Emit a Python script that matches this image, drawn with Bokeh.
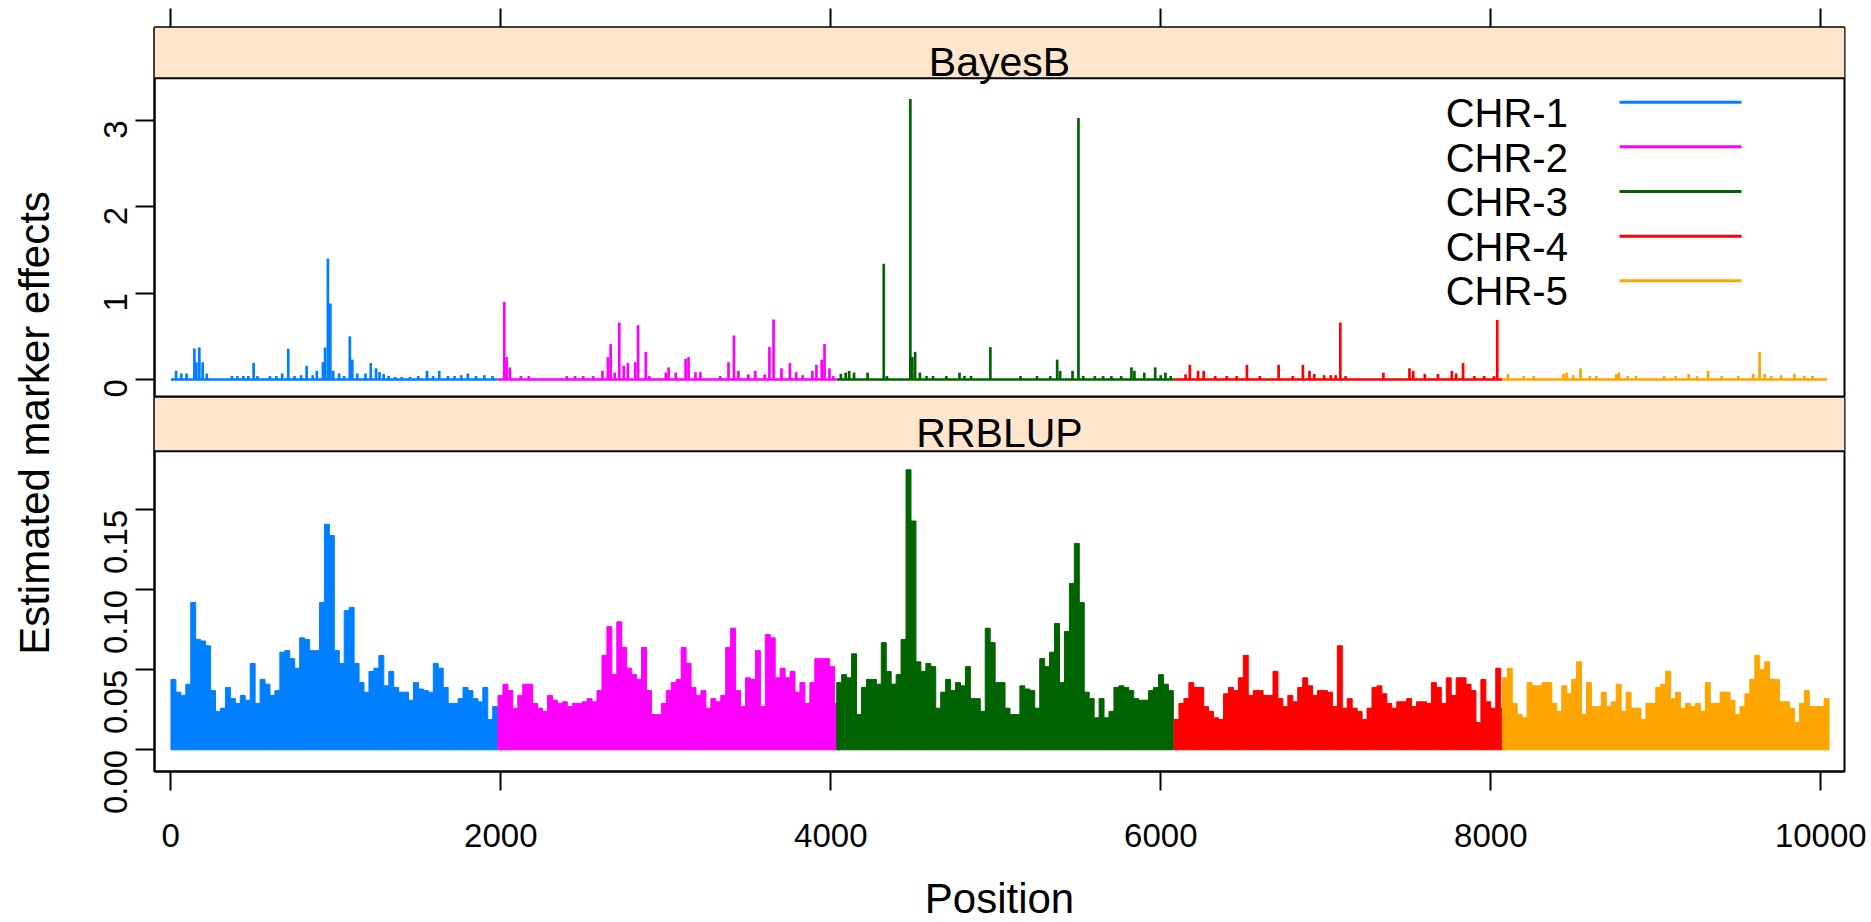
import math
from bokeh.plotting import figure
from bokeh.models import Range1d, FixedTicker, PrintfTickFormatter, BoxAnnotation, Span, Label, ColumnDataSource
from bokeh.layouts import row, column
from bokeh.core.properties import value
from bokeh.embed import file_html
from bokeh.resources import INLINE

# ---------------- data ----------------
CHR_NAMES = ["CHR-1", "CHR-2", "CHR-3", "CHR-4", "CHR-5"]
CHR_COLORS = ["#0080ff", "#ff00ff", "#006400", "#ff0000", "#ffa500"]
CHR_START = [1, 1983, 4036, 6080, 8070]
CHR_END = [1982, 4035, 6079, 8069, 10039]
X_TICKS = [0, 2000, 4000, 6000, 8000, 10000]
BAYES_TICKS = [0, 1, 2, 3]
RR_TICKS = [0.0, 0.05, 0.10, 0.15]

# BayesB: marker positions with visible effects (all others ~0)
bayes_pos_1 = [32, 64, 96, 143, 155, 173, 193, 218, 371, 403, 440, 470, 502, 525, 601, 640, 675, 712, 750, 790,
               823, 860, 885, 922, 935, 952, 967, 984, 1020, 1050, 1085, 1100, 1130, 1180, 1212, 1244, 1265,
               1290, 1320, 1360, 1400, 1450, 1500, 1553, 1590, 1627, 1680, 1720, 1760, 1800, 1850, 1900, 1950]
bayes_val_1 = [0.10, 0.07, 0.07, 0.36, 0.20, 0.37, 0.20, 0.07, 0.04, 0.04, 0.04, 0.04, 0.19, 0.04, 0.04, 0.04,
               0.07, 0.355, 0.04, 0.05, 0.16, 0.05, 0.10, 0.20, 0.37, 1.40, 0.88, 0.10, 0.07, 0.04, 0.50, 0.23,
               0.07, 0.07, 0.19, 0.13, 0.085, 0.065, 0.04, 0.03, 0.03, 0.03, 0.04, 0.10, 0.04, 0.10, 0.04, 0.04,
               0.05, 0.07, 0.04, 0.05, 0.04]
bayes_pos_2 = [2021, 2035, 2055, 2122, 2170, 2400, 2450, 2500, 2560, 2616, 2649, 2666, 2690, 2718, 2745, 2770,
               2815, 2832, 2879, 2900, 3000, 3017, 3060, 3120, 3138, 3180, 3210, 3330, 3380, 3413, 3440, 3500,
               3542, 3600, 3628, 3653, 3701, 3752, 3790, 3830, 3888, 3913, 3945, 3962, 3992, 4015]
bayes_val_2 = [0.90, 0.26, 0.14, 0.04, 0.04, 0.04, 0.04, 0.04, 0.04, 0.10, 0.26, 0.41, 0.08, 0.66, 0.16, 0.19,
               0.20, 0.63, 0.32, 0.04, 0.08, 0.14, 0.08, 0.24, 0.26, 0.085, 0.085, 0.04, 0.20, 0.51, 0.10, 0.06,
               0.10, 0.06, 0.375, 0.695, 0.13, 0.19, 0.085, 0.05, 0.10, 0.17, 0.23, 0.41, 0.13, 0.04]
bayes_pos_3 = [4061, 4090, 4111, 4141, 4223, 4321, 4340, 4482, 4494, 4511, 4540, 4580, 4620, 4700, 4780, 4810,
               4850, 4967, 5150, 5250, 5330, 5372, 5390, 5465, 5501, 5530, 5600, 5650, 5700, 5760, 5822, 5840,
               5900, 5966, 6000, 6028, 6060]
bayes_val_3 = [0.065, 0.08, 0.10, 0.08, 0.08, 1.34, 0.04, 3.25, 0.26, 0.32, 0.08, 0.04, 0.04, 0.04, 0.08, 0.04,
               0.04, 0.375, 0.04, 0.04, 0.04, 0.23, 0.10, 0.10, 3.03, 0.04, 0.04, 0.04, 0.04, 0.04, 0.14, 0.10,
               0.08, 0.14, 0.05, 0.08, 0.04]
bayes_pos_4 = [6150, 6176, 6226, 6260, 6330, 6400, 6460, 6522, 6600, 6714, 6800, 6861, 6901, 6930, 6990, 7030,
               7060, 7088, 7120, 7349, 7507, 7530, 7600, 7680, 7764, 7790, 7832, 7900, 7960, 8020, 8039]
bayes_val_4 = [0.06, 0.17, 0.10, 0.10, 0.04, 0.04, 0.04, 0.17, 0.04, 0.17, 0.04, 0.17, 0.10, 0.065, 0.05, 0.05,
               0.05, 0.66, 0.04, 0.08, 0.13, 0.10, 0.065, 0.065, 0.10, 0.07, 0.19, 0.04, 0.04, 0.04, 0.69]
bayes_pos_5 = [8105, 8200, 8260, 8440, 8459, 8500, 8544, 8600, 8640, 8760, 8776, 8830, 8880, 9050, 9120, 9200,
               9250, 9317, 9400, 9500, 9590, 9629, 9660, 9700, 9760, 9840, 9900, 9950]
bayes_val_5 = [0.065, 0.04, 0.04, 0.065, 0.08, 0.05, 0.13, 0.04, 0.04, 0.065, 0.08, 0.04, 0.04, 0.04, 0.04,
               0.065, 0.04, 0.10, 0.04, 0.04, 0.065, 0.32, 0.065, 0.04, 0.05, 0.065, 0.04, 0.04]

# RRBLUP: upper envelope of |effect| per block of 30 consecutive markers
RR_BLOCK = 30
rr_val_1 = [0.044, 0.036, 0.034, 0.041, 0.092, 0.069, 0.068, 0.065, 0.037, 0.024,
            0.026, 0.039, 0.032, 0.029, 0.034, 0.031, 0.054, 0.029, 0.044, 0.041,
            0.034, 0.037, 0.061, 0.062, 0.057, 0.051, 0.070, 0.069, 0.062, 0.062,
            0.092, 0.141, 0.134, 0.062, 0.054, 0.087, 0.089, 0.054, 0.042, 0.036,
            0.049, 0.051, 0.059, 0.040, 0.049, 0.039, 0.036, 0.036, 0.031, 0.042,
            0.038, 0.037, 0.036, 0.054, 0.051, 0.039, 0.029, 0.029, 0.032, 0.039,
            0.037, 0.032, 0.030, 0.039, 0.019, 0.027]
rr_val_2 = [0.034, 0.041, 0.037, 0.026, 0.034, 0.041, 0.041, 0.029, 0.026, 0.024,
            0.034, 0.031, 0.029, 0.030, 0.027, 0.029, 0.029, 0.030, 0.032, 0.030,
            0.037, 0.059, 0.077, 0.047, 0.080, 0.064, 0.051, 0.047, 0.044, 0.064,
            0.037, 0.022, 0.022, 0.029, 0.037, 0.042, 0.044, 0.064, 0.054, 0.039,
            0.034, 0.037, 0.026, 0.032, 0.030, 0.034, 0.064, 0.076, 0.037, 0.027,
            0.045, 0.044, 0.062, 0.027, 0.072, 0.070, 0.045, 0.051, 0.045, 0.049,
            0.036, 0.042, 0.029, 0.042, 0.057, 0.057, 0.057, 0.052, 0.029]
rr_val_3 = [0.042, 0.047, 0.045, 0.060, 0.022, 0.039, 0.044, 0.044, 0.041, 0.067,
            0.049, 0.041, 0.047, 0.069, 0.175, 0.143, 0.055, 0.049, 0.054, 0.052,
            0.026, 0.036, 0.044, 0.037, 0.042, 0.040, 0.052, 0.032, 0.032, 0.024,
            0.076, 0.067, 0.042, 0.042, 0.026, 0.022, 0.022, 0.040, 0.038, 0.037,
            0.026, 0.057, 0.052, 0.061, 0.079, 0.042, 0.074, 0.104, 0.129, 0.092,
            0.036, 0.032, 0.020, 0.032, 0.020, 0.024, 0.039, 0.040, 0.039, 0.037,
            0.032, 0.031, 0.031, 0.037, 0.039, 0.047, 0.041, 0.037]
rr_val_4 = [0.019, 0.029, 0.032, 0.042, 0.039, 0.039, 0.027, 0.024, 0.020, 0.019,
            0.035, 0.039, 0.037, 0.045, 0.059, 0.034, 0.037, 0.037, 0.034, 0.034,
            0.049, 0.032, 0.027, 0.034, 0.030, 0.039, 0.045, 0.040, 0.034, 0.037,
            0.037, 0.036, 0.027, 0.065, 0.026, 0.032, 0.026, 0.024, 0.019, 0.026,
            0.039, 0.040, 0.035, 0.029, 0.026, 0.030, 0.030, 0.032, 0.027, 0.030,
            0.030, 0.029, 0.042, 0.039, 0.029, 0.045, 0.034, 0.045, 0.045, 0.041,
            0.037, 0.017, 0.044, 0.030, 0.026, 0.051, 0.026]
rr_val_5 = [0.045, 0.051, 0.029, 0.022, 0.020, 0.042, 0.040, 0.040, 0.042, 0.042,
            0.029, 0.024, 0.040, 0.035, 0.044, 0.055, 0.022, 0.042, 0.027, 0.027,
            0.036, 0.027, 0.030, 0.041, 0.024, 0.036, 0.026, 0.026, 0.019, 0.029,
            0.029, 0.039, 0.041, 0.049, 0.032, 0.036, 0.026, 0.029, 0.027, 0.029,
            0.024, 0.042, 0.029, 0.029, 0.036, 0.036, 0.031, 0.022, 0.027, 0.035,
            0.044, 0.059, 0.050, 0.055, 0.044, 0.044, 0.030, 0.030, 0.026, 0.017,
            0.029, 0.037, 0.027, 0.027, 0.027, 0.032]

BAYES_POS = [bayes_pos_1, bayes_pos_2, bayes_pos_3, bayes_pos_4, bayes_pos_5]
BAYES_VAL = [bayes_val_1, bayes_val_2, bayes_val_3, bayes_val_4, bayes_val_5]
RR_VAL = [rr_val_1, rr_val_2, rr_val_3, rr_val_4, rr_val_5]

# ---------------- layout helpers (page pixels -> data) ----------------
FONT = "Liberation Sans"
X0_PX, X_SCALE = 170.3, 0.165
B0_PX, B_SCALE = 379.0, 86.33
R0_PX, R_SCALE = 749.3, 1600.0
DROP = 0.27            # rendered baseline sits this many em below the requested one


def xd(px):
    return (px - X0_PX) / X_SCALE


def yb(px):
    return (B0_PX - px) / B_SCALE


def yr(px):
    return (R0_PX - px) / R_SCALE


STRIP_FILL = "#ffe5cc"
LW = 2.7
TICK_FS = "33px"

YLAB_W = 72
PANEL_W = 1799          # 82 left border + 1690 frame + 27 right border
BOT_BORDER = 94
XLAB_H = 922 - 397 - (374 + BOT_BORDER)
x_range = Range1d(xd(154), xd(1844))


def style_axis(ax, ticks, fs=TICK_FS):
    ax.ticker = FixedTicker(ticks=ticks, minor_ticks=[])
    ax.axis_line_color = "black"
    ax.axis_line_width = 2
    ax.major_tick_line_color = "black"
    ax.major_tick_line_width = 2
    ax.major_tick_out = 19
    ax.major_tick_in = 0
    ax.minor_tick_line_color = None
    ax.major_label_text_font = FONT
    ax.major_label_text_font_size = fs
    ax.major_label_text_color = "black"


def base_fig(**kw):
    p = figure(output_backend="svg", toolbar_location=None, tools="", x_range=x_range, width=PANEL_W,
               background_fill_color="white", border_fill_color="white",
               min_border_left=82, min_border_right=27, **kw)
    p.grid.visible = False
    p.outline_line_color = "black"
    p.outline_line_width = 2
    return p


# ---------------- BayesB panel ----------------
top = base_fig(height=397, y_range=Range1d(yb(397), yb(27)), x_axis_location="above",
               min_border_top=27, min_border_bottom=0)
style_axis(top.xaxis[0], X_TICKS, fs="1px")
top.xaxis[0].major_label_standoff = 0
top.xaxis[0].major_label_text_color = None
style_axis(top.yaxis[0], BAYES_TICKS)
top.yaxis[0].major_label_orientation = math.pi / 2
top.yaxis[0].major_label_standoff = 20

top.add_layout(BoxAnnotation(bottom=yb(77.7), fill_color=STRIP_FILL, fill_alpha=1.0, line_color=None))
top.add_layout(Span(location=yb(77.7), dimension="width", line_color="black", line_width=2))
top.add_layout(Label(x=xd(999), y=yb(72.7 - DROP * 41), text="BayesB", text_align="center",
                     text_baseline="alphabetic", text_font=FONT, text_font_size="41px", text_color="black"))

for i in range(5):
    top.segment(x0=[CHR_START[i]], y0=[0], x1=[CHR_END[i]], y1=[0], line_color=CHR_COLORS[i], line_width=LW)
    src = ColumnDataSource(dict(x=BAYES_POS[i], y=BAYES_VAL[i], z=[0] * len(BAYES_POS[i])))
    top.segment(x0="x", y0="z", x1="x", y1="y", source=src, line_color=CHR_COLORS[i], line_width=LW)

# key (text left, line right)
key_text_y = [yb(123.3 - DROP * 40 + 44.6 * i) for i in range(5)]
key_line_y = [yb(101.7 + 44.65 * i) for i in range(5)]
top.text(x=[xd(1445.2)] * 5, y=key_text_y, text=CHR_NAMES, text_align="left", text_baseline="alphabetic",
         text_font=value(FONT), text_font_size="40px", text_color="black")
top.segment(x0=[xd(1619)] * 5, y0=key_line_y, x1=[xd(1741)] * 5, y1=key_line_y,
            line_color=CHR_COLORS, line_width=3)

# ---------------- RRBLUP panel ----------------
bot = base_fig(height=374 + BOT_BORDER, y_range=Range1d(yr(771), yr(397)), min_border_top=0,
               min_border_bottom=BOT_BORDER)
style_axis(bot.xaxis[0], X_TICKS)
bot.xaxis[0].major_label_standoff = 33
style_axis(bot.yaxis[0], RR_TICKS)
bot.yaxis[0].formatter = PrintfTickFormatter(format="%.2f")
bot.yaxis[0].major_label_orientation = math.pi / 2
bot.yaxis[0].major_label_standoff = 20

bot.add_layout(BoxAnnotation(bottom=yr(450.7), fill_color=STRIP_FILL, fill_alpha=1.0, line_color=None))
bot.add_layout(Span(location=yr(450.7), dimension="width", line_color="black", line_width=2))
bot.add_layout(Label(x=xd(999), y=yr(444 - DROP * 41), text="RRBLUP", text_align="center",
                     text_baseline="alphabetic", text_font=FONT, text_font_size="41px", text_color="black"))

for i in range(5):
    vals = RR_VAL[i]
    xs = [CHR_START[i] + RR_BLOCK * k + RR_BLOCK / 2 for k in range(len(vals))]
    src = ColumnDataSource(dict(x=xs, top=vals))
    bot.vbar(x="x", top="top", bottom=0, width=RR_BLOCK, source=src, fill_color=CHR_COLORS[i],
             line_color=CHR_COLORS[i], line_width=1)

# ---------------- y label (left strip) ----------------
ylab = figure(width=YLAB_W, height=397 + 374 + BOT_BORDER, x_range=Range1d(0, YLAB_W),
              y_range=Range1d(0, 397 + 374 + BOT_BORDER), output_backend="svg", toolbar_location=None, tools="",
              x_axis_location=None, y_axis_location=None, min_border=0, background_fill_color="white",
              border_fill_color="white")
ylab.grid.visible = False
ylab.outline_line_color = None
ylab.add_layout(Label(x=44.9 - DROP * 42, y=397 + 374 + BOT_BORDER - 422.5, text="Estimated marker effects",
                      angle=math.pi / 2, text_align="center", text_baseline="alphabetic", text_font=FONT,
                      text_font_size="42px", text_color="black"))

# ---------------- x label (bottom strip) ----------------
xlab = figure(width=1871, height=XLAB_H, x_range=Range1d(0, 1871), y_range=Range1d(0, XLAB_H),
              output_backend="svg", toolbar_location=None, tools="", x_axis_location=None,
              y_axis_location=None, min_border=0, background_fill_color="white", border_fill_color="white")
xlab.grid.visible = False
xlab.outline_line_color = None
xlab.add_layout(Label(x=999, y=922 - 909 + DROP * 42, text="Position", text_align="center",
                      text_baseline="alphabetic", text_font=FONT, text_font_size="42px", text_color="black"))

layout = column(row(ylab, column(top, bot)), xlab)
open("out.html", "w").write(file_html(layout, INLINE))
